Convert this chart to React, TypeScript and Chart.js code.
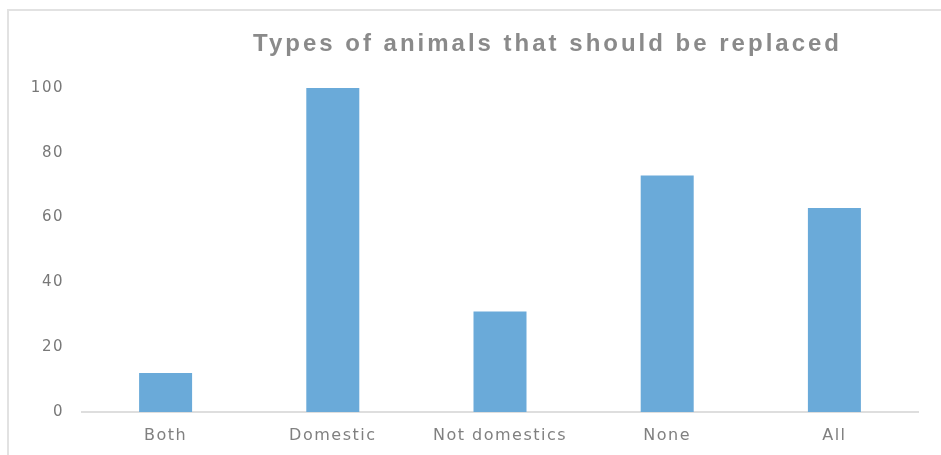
import React, { useEffect, useRef } from "react";
import { Chart, registerables } from "chart.js";

Chart.register(...registerables);

const categories = ["Both", "Domestic", "Not domestics", "None", "All"];
const values = [12, 100, 31, 73, 63];
const yMin = 0;
const yMax = 100;
const yStep = 20;
const titleText = "Types of animals that should be replaced";

const FONT = "'DejaVu Sans', Verdana, sans-serif";
const TITLE_FONT = "'Liberation Sans', Arial, sans-serif";
const SPACING = "1.5px";
const TITLE_SPACING = "3px";

const customPlugin = {
  id: "customLook",
  beforeUpdate(chart: any) {
    chart.ctx.letterSpacing = SPACING;
  },
  beforeLayout(chart: any) {
    chart.ctx.letterSpacing = SPACING;
  },
  afterLayout(chart: any) {
    const tb = chart.titleBlock;
    if (tb) {
      // reference title is centred to the right of the canvas centre
      tb.left = 154;
      tb.right = 941;
      if (!tb.__patched) {
        const orig = tb.draw.bind(tb);
        tb.draw = (...args: any[]) => {
          const ctx = chart.ctx;
          ctx.save();
          ctx.letterSpacing = TITLE_SPACING;
          orig(...args);
          ctx.restore();
        };
        tb.__patched = true;
      }
    }
  },
  beforeDraw(chart: any) {
    chart.ctx.letterSpacing = SPACING;
  },
};

export default function App() {
  const ref = useRef<HTMLCanvasElement | null>(null);

  useEffect(() => {
    if (!ref.current) return;
    const chart = new Chart(ref.current, {
      type: "bar",
      data: {
        labels: categories,
        datasets: [
          {
            data: values,
            backgroundColor: "#6aaad9",
            borderWidth: 0,
            barPercentage: 0.317,
            categoryPercentage: 1,
          },
        ],
      },
      plugins: [customPlugin],
      options: {
        animation: false,
        responsive: false,
        devicePixelRatio: 1,
        layout: { padding: { left: 0, right: 23, top: 0, bottom: 0 } },
        plugins: {
          legend: { display: false },
          tooltip: { enabled: false },
          title: {
            display: true,
            text: titleText,
            color: "#8a8a8a",
            font: { family: TITLE_FONT, size: 24, weight: "bold", lineHeight: 1.2 },
            padding: { top: 30.2, bottom: 29 },
          },
        },
        scales: {
          x: {
            grid: { display: false, drawTicks: false },
            border: { display: true, color: "#dedede", width: 2 },
            ticks: {
              color: "#808080",
              font: { family: FONT, size: 16 },
              padding: 14,
              maxRotation: 0,
              autoSkip: false,
            },
            afterFit: (scale: any) => {
              scale.height = 43;
            },
          },
          y: {
            min: yMin,
            max: yMax,
            grid: { display: false, drawTicks: false },
            border: { display: false },
            ticks: {
              stepSize: yStep,
              color: "#787878",
              font: { family: FONT, size: 15 },
              padding: 18,
            },
            afterFit: (scale: any) => {
              scale.width = 82;
            },
          },
        },
      },
    });
    return () => chart.destroy();
  }, []);

  return (
    <div
      style={{
        position: "fixed",
        left: 0,
        top: 0,
        width: 941,
        height: 455,
        overflow: "hidden",
        background: "#fff",
      }}
    >
      <div
        style={{
          position: "absolute",
          left: 7,
          top: 9,
          width: 1200,
          height: 1200,
          border: "2px solid #e2e2e2",
        }}
      />
      <canvas
        ref={ref}
        width={941}
        height={455}
        style={{ position: "absolute", left: 0, top: 0, width: 941, height: 455 }}
      />
    </div>
  );
}
